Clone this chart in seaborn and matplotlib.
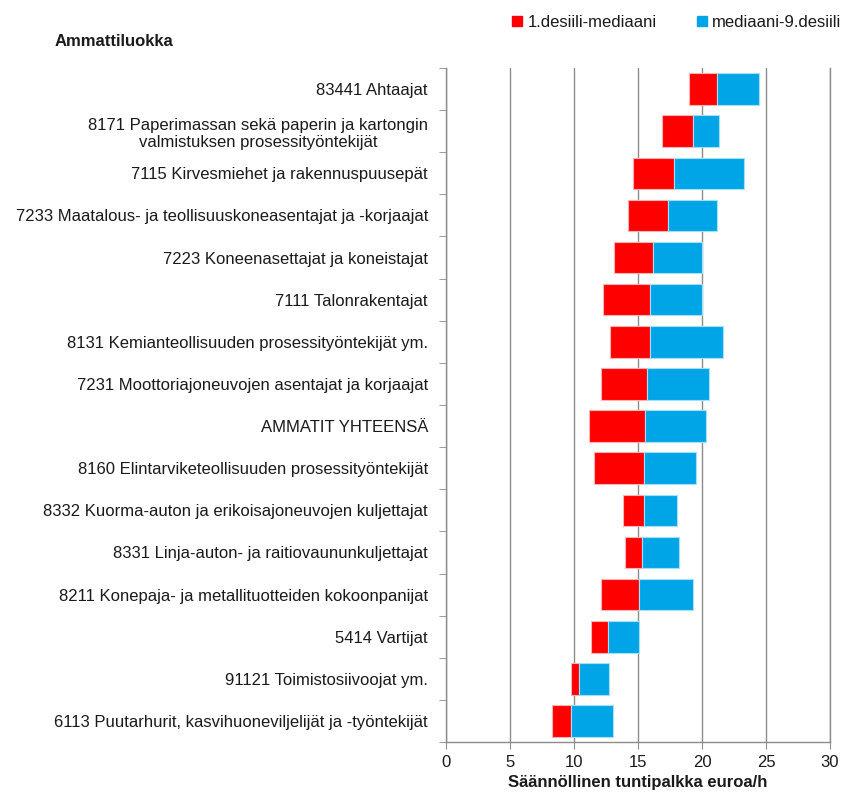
import pandas as pd
import seaborn as sns
import matplotlib.pyplot as plt
from matplotlib.lines import Line2D

ammatit = [
    '83441 Ahtaajat',
    '8171 Paperimassan sekä paperin ja kartongin\nvalmistuksen prosessityöntekijät',
    '7115 Kirvesmiehet ja rakennuspuusepät',
    '7233 Maatalous- ja teollisuuskoneasentajat ja -korjaajat',
    '7223 Koneenasettajat ja koneistajat',
    '7111 Talonrakentajat',
    '8131 Kemianteollisuuden prosessityöntekijät ym.',
    '7231 Moottoriajoneuvojen asentajat ja korjaajat',
    'AMMATIT YHTEENSÄ',
    '8160 Elintarviketeollisuuden prosessityöntekijät',
    '8332 Kuorma-auton ja erikoisajoneuvojen kuljettajat',
    '8331 Linja-auton- ja raitiovaununkuljettajat',
    '8211 Konepaja- ja metallituotteiden kokoonpanijat',
    '5414 Vartijat',
    '91121 Toimistosiivoojat ym.',
    '6113 Puutarhurit, kasvihuoneviljelijät ja -työntekijät',
]
desiili1 = [18.95, 16.85, 14.6, 14.2, 13.1, 12.3, 12.85, 12.1, 11.2, 11.6, 13.8, 13.95, 12.1, 11.3, 9.8, 8.3]
mediaani = [21.2, 19.3, 17.85, 17.35, 16.2, 15.95, 15.95, 15.7, 15.55, 15.45, 15.45, 15.3, 15.05, 12.65, 10.4, 9.75]
desiili9 = [24.45, 21.3, 23.3, 21.2, 20.0, 20.0, 21.65, 20.55, 20.3, 19.55, 18.05, 18.2, 19.3, 15.05, 12.7, 13.05]

df = pd.DataFrame({'ammatti': ammatit, 'd1': desiili1, 'med': mediaani, 'd9': desiili9})
df['ala'] = df['med'] - df['d1']
df['yla'] = df['d9'] - df['med']

punainen = '#ff0000'
sininen = '#00a5e8'
harmaa = '#8c8c8c'
teksti = '#1a1a1a'

sns.set_style('white')
plt.rcParams['font.family'] = ['Liberation Sans', 'DejaVu Sans']

fig = plt.figure(figsize=(8.42, 7.96), dpi=100)
ax = fig.add_axes([0.5297, 0.0678, 0.456, 0.8468])

sns.barplot(data=df, y='ammatti', x='ala', order=ammatit, orient='h',
            left=df['d1'].to_numpy(), color=punainen, saturation=1, width=0.75,
            edgecolor='#ffb3b3', linewidth=0.8, ax=ax, zorder=3)
sns.barplot(data=df, y='ammatti', x='yla', order=ammatit, orient='h',
            left=df['med'].to_numpy(), color=sininen, saturation=1, width=0.75,
            edgecolor='#a6e0f7', linewidth=0.8, ax=ax, zorder=3)

ax.set_xlim(0, 30)
ax.set_ylim(15.5, -0.5)
ax.set_xticks(range(0, 31, 5))
ax.xaxis.grid(True, color=harmaa, lw=1)
ax.yaxis.grid(False)
ax.set_axisbelow(True)

ax.spines['top'].set_visible(False)
for s in ['left', 'bottom', 'right']:
    ax.spines[s].set_color(harmaa)
    ax.spines[s].set_linewidth(1)

ax.set_yticks([i + 0.5 for i in range(-1, 16)], minor=True)
ax.tick_params(axis='y', which='major', length=0, pad=13, labelsize=12, labelcolor=teksti)
ax.tick_params(axis='y', which='minor', length=5, color=harmaa, direction='out', left=True)
ax.tick_params(axis='x', which='major', length=5, color=harmaa, direction='out', bottom=True,
               labelsize=12, labelcolor=teksti, pad=4)
for lab in ax.get_yticklabels():
    lab.set_multialignment('center')

ax.set_ylabel('')
ax.set_xlabel('Säännöllinen tuntipalkka euroa/h', fontsize=12, fontweight='bold',
              labelpad=4, color=teksti)

fig.text(55 / 842, 1 - 42 / 796, 'Ammattiluokka', fontsize=12, fontweight='bold',
         va='center', color=teksti)

kahvat = [Line2D([], [], ls='none', marker='s', markersize=7, color=punainen, label='1.desiili-mediaani'),
          Line2D([], [], ls='none', marker='s', markersize=7, color=sininen, label='mediaani-9.desiili')]
leg = fig.legend(handles=kahvat, loc='center', bbox_to_anchor=(0.804, 0.972), ncol=2,
                 frameon=False, fontsize=12, handlelength=0.6, handletextpad=0.3,
                 columnspacing=2.45)
for t in leg.get_texts():
    t.set_color(teksti)

fig.savefig('out.png', dpi=100)
